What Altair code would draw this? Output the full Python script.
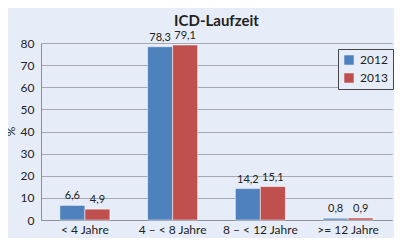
import altair as alt
import pandas as pd

categories = ["< 4 Jahre", "4 – < 8 Jahre", "8 – < 12 Jahre", ">= 12 Jahre"]
years = ["2012", "2013"]
values_2012 = [6.6, 78.3, 14.2, 0.8]
values_2013 = [4.9, 79.1, 15.1, 0.9]
colors = ["#4f81bd", "#c0504d"]

rows = []
for year, vals in zip(years, [values_2012, values_2013]):
    for c, v in zip(categories, vals):
        rows.append({"cat": c, "year": year, "value": v,
                     "label": f"{v:.1f}".replace(".", ",")})
df = pd.DataFrame(rows)

FONT = "Lato"
BG = "#e7edf8"
FS = 12

x = alt.X("cat:N", sort=categories, title=None,
          scale=alt.Scale(paddingInner=0.43, paddingOuter=0.215),
          axis=alt.Axis(labelAngle=0, ticks=False, domainColor="#8a8f98",
                        labelFontSize=FS, labelColor="#222", labelFont=FONT,
                        labelPadding=4))
xo = alt.XOffset("year:N", sort=years, scale=alt.Scale(paddingInner=0, paddingOuter=0))
y = alt.Y("value:Q", title="%",
          scale=alt.Scale(domain=[0, 80], nice=False),
          axis=alt.Axis(values=[0, 10, 20, 30, 40, 50, 60, 70, 80], ticks=False,
                        labelOverlap=False,
                        domain=True, domainColor="#8a8f98", gridColor="#a4a9b2",
                        labelFontSize=FS, labelColor="#222", labelFont=FONT,
                        labelPadding=7, titleFontSize=FS, titleFont=FONT,
                        titleFontWeight="normal", titleColor="#222",
                        titleAngle=270, titleX=-31, titleY=88,
                        titleAlign="center", titleBaseline="middle"))

bars = alt.Chart(df).mark_bar(stroke="white", strokeWidth=0.5).encode(
    x=x, xOffset=xo, y=y,
    color=alt.Color("year:N", sort=years, title=None,
                    scale=alt.Scale(domain=years, range=colors),
                    legend=alt.Legend(orient="none", legendX=297, legendY=6,
                                      symbolType="square", symbolSize=90,
                                      symbolStrokeWidth=0,
                                      labelFontSize=FS, labelFont=FONT, labelColor="#222",
                                      strokeColor="#444", fillColor=BG, padding=5,
                                      rowPadding=6, labelOffset=5)),
)

text = alt.Chart(df).mark_text(dy=-6, fontSize=11, font=FONT, color="#222",
                               baseline="alphabetic").encode(
    x=x, xOffset=xo, y=y,
    text="label:N",
)

chart = (bars + text).properties(
    width=351, height=177,
    autosize=alt.AutoSizeParams(type="none"),
    padding={"left": 33, "top": 35, "right": 2, "bottom": 18},
    title=alt.TitleParams("ICD-Laufzeit", fontSize=15, font=FONT, fontWeight="bold",
                          color="#222", anchor="middle", offset=1),
).configure(background=BG).configure_view(stroke=None)

chart.save("out.html", embed_options={"renderer": "svg", "actions": False})
